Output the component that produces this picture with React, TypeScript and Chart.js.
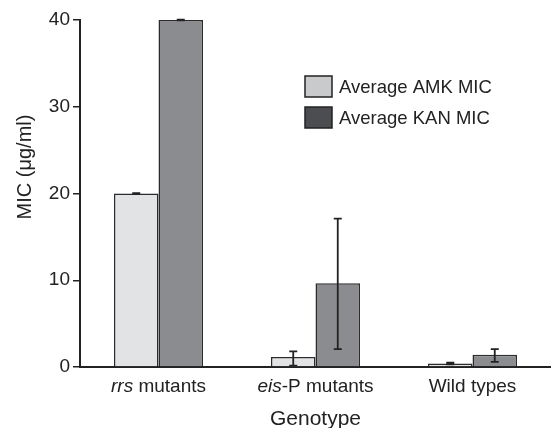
import React, { useEffect, useRef } from "react";
import { Chart, registerables } from "chart.js";

Chart.register(...registerables);

const categories = ["rrs mutants", "eis-P mutants", "Wild types"];
const italicParts = ["rrs", "eis", ""];
const restParts = [" mutants", "-P mutants", "Wild types"];

const amkValues = [20, 1.15, 0.4];
const kanValues = [40, 9.65, 1.42];
const amkLow = [19.95, 0.15, 0.3];
const amkHigh = [20.05, 1.8, 0.5];
const kanLow = [39.95, 2.05, 0.6];
const kanHigh = [40.05, 17.1, 2.07];

const yTicks = [0, 10, 20, 30, 40];
const legendLabels = ["Average AMK MIC", "Average KAN MIC"];
const legendColors = ["#c9cacc", "#4b4d50"];
const xTitle = "Genotype";
const yTitle = "MIC (μg/ml)";

const FONT = "'Liberation Sans', Arial, sans-serif";
const INK = "#222222";

const errorBarPlugin = {
  id: "errorBars",
  afterDatasetsDraw(chart: any) {
    const ctx = chart.ctx;
    const y = chart.scales.y;
    const lows = [amkLow, kanLow];
    const highs = [amkHigh, kanHigh];
    ctx.save();
    ctx.strokeStyle = INK;
    ctx.lineWidth = 1.8;
    chart.data.datasets.forEach((_: any, di: number) => {
      const meta = chart.getDatasetMeta(di);
      meta.data.forEach((bar: any, i: number) => {
        const x = bar.x;
        const yl = y.getPixelForValue(lows[di][i]);
        const yh = y.getPixelForValue(highs[di][i]);
        ctx.beginPath();
        ctx.moveTo(x, yl);
        ctx.lineTo(x, yh);
        ctx.moveTo(x - 4, yl);
        ctx.lineTo(x + 4, yl);
        ctx.moveTo(x - 4, yh);
        ctx.lineTo(x + 4, yh);
        ctx.stroke();
      });
    });
    ctx.restore();
  },
};

const labelsPlugin = {
  id: "mixedLabels",
  afterDraw(chart: any) {
    const ctx = chart.ctx;
    const xs = chart.scales.x;
    const area = chart.chartArea;
    ctx.save();
    ctx.fillStyle = INK;
    ctx.textBaseline = "alphabetic";
    // x tick labels with italic prefixes
    categories.forEach((_, i) => {
      const cx = xs.getPixelForValue(i);
      const it = italicParts[i];
      const rest = it ? restParts[i] : categories[i];
      ctx.font = `italic 19px ${FONT}`;
      const w1 = it ? ctx.measureText(it).width : 0;
      ctx.font = `19px ${FONT}`;
      const w2 = ctx.measureText(rest).width;
      let x0 = cx - (w1 + w2) / 2;
      const yb = xs.top + 25;
      ctx.textAlign = "left";
      if (it) {
        ctx.font = `italic 19px ${FONT}`;
        ctx.fillText(it, x0, yb);
        x0 += w1;
      }
      ctx.font = `19px ${FONT}`;
      ctx.fillText(rest, x0, yb);
    });
    // axis titles
    ctx.font = `21px ${FONT}`;
    ctx.textAlign = "center";
    ctx.fillText(xTitle, (area.left + area.right) / 2, xs.top + 58);
    ctx.save();
    ctx.translate(31, area.top + 147);
    ctx.rotate(-Math.PI / 2);
    ctx.font = `20px ${FONT}`;
    ctx.fillText(yTitle, 0, 0);
    ctx.restore();
    // legend
    legendLabels.forEach((lab, i) => {
      const sx = area.left + 225;
      const sy = area.top + 56 + i * 31;
      ctx.fillStyle = legendColors[i];
      ctx.fillRect(sx, sy, 27, 21);
      ctx.strokeStyle = INK;
      ctx.lineWidth = 1.5;
      ctx.strokeRect(sx, sy, 27, 21);
      ctx.fillStyle = INK;
      ctx.font = `18.5px ${FONT}`;
      ctx.textAlign = "left";
      ctx.fillText(lab, sx + 34, sy + 16.5);
    });
    ctx.restore();
  },
};

export default function App() {
  const ref = useRef<HTMLCanvasElement>(null);
  useEffect(() => {
    const canvas = ref.current!;
    const chart = new Chart(canvas, {
      type: "bar",
      data: {
        labels: categories,
        datasets: [
          {
            label: legendLabels[0],
            data: amkValues,
            backgroundColor: "#e2e3e5",
            borderColor: "#2b2b2b",
            borderWidth: 1.5,
          },
          {
            label: legendLabels[1],
            data: kanValues,
            backgroundColor: "#8b8c8f",
            borderColor: "#2b2b2b",
            borderWidth: 1.5,
          },
        ],
      },
      options: {
        animation: false,
        responsive: false,
        devicePixelRatio: 1,
        layout: { padding: { top: 20, right: 0, bottom: 0, left: 0 } },
        plugins: { legend: { display: false }, tooltip: { enabled: false } },
        datasets: { bar: { categoryPercentage: 0.567, barPercentage: 1 } },
        scales: {
          x: {
            grid: { display: false, drawTicks: false },
            border: { display: true, color: INK, width: 2 },
            ticks: { display: false },
            title: { display: false },
            afterFit(scale: any) {
              scale.height = 61;
            },
          },
          y: {
            min: 0,
            max: 40,
            afterBuildTicks(scale: any) {
              scale.ticks = yTicks.map((v) => ({ value: v }));
            },
            grid: {
              display: true,
              drawOnChartArea: false,
              drawTicks: true,
              tickLength: 7,
              color: INK,
              lineWidth: 1.5,
            },
            border: { display: true, color: INK, width: 2 },
            ticks: {
              color: INK,
              font: { family: FONT, size: 19 },
              padding: 3,
            },
            title: { display: false },
            afterFit(scale: any) {
              scale.width = 80;
            },
          },
        },
      },
      plugins: [errorBarPlugin, labelsPlugin],
    } as any);
    return () => chart.destroy();
  }, []);
  return (
    <div style={{ position: "fixed", left: 0, top: 0, width: 551, height: 428, background: "#fff" }}>
      <canvas ref={ref} width={551} height={428} />
    </div>
  );
}
